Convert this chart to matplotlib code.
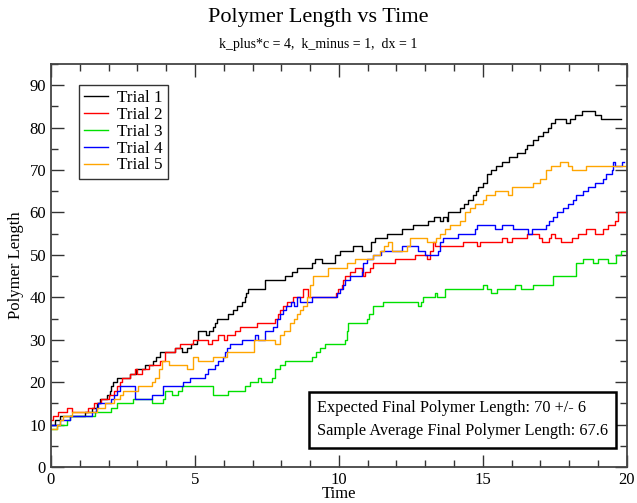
import matplotlib
matplotlib.use("Agg")
from matplotlib import pyplot as plt
from matplotlib.ticker import MultipleLocator

# step data: (time of jump, new length)
t1 = [0, 0.14, 0.31, 1.18, 1.41, 1.59, 1.7, 1.93, 2.05, 2.1, 2.16, 2.3, 2.74, 2.97, 3.26, 3.55, 3.66, 3.78,
      4.3, 4.55, 4.71, 4.85, 5.06, 5.12, 5.4, 5.5, 5.64, 5.69, 5.75, 6.16, 6.33, 6.45, 6.62, 6.74, 6.79, 6.85,
      7.43, 8.12, 8.36, 8.53, 9.05, 9.17, 9.4, 9.57, 9.86, 10.04, 10.5, 10.79, 11.13, 11.25, 11.66, 12.18,
      12.58, 13.1, 13.3, 13.5, 13.6, 13.75, 13.8, 14.2, 14.35, 14.5, 14.66, 14.75, 14.84, 15.0, 15.13, 15.3,
      15.47, 15.65, 15.9, 16.17, 16.46, 16.55, 16.75, 16.92, 17.1, 17.27, 17.38, 17.5, 17.9, 18.02, 18.2,
      18.43, 18.89, 19.1, 19.8]
y1 = [10, 11, 12, 13, 14, 15, 16, 17, 18, 19, 20, 21, 22, 23, 24, 25, 26, 27,
      28, 27, 28, 29, 30, 32, 31, 32, 33, 34, 35, 36, 37, 38, 39, 40, 41, 42,
      44, 45, 46, 47, 48, 49, 48, 48, 50, 51, 52, 51, 53, 54, 55, 56,
      57, 58, 59, 58, 59, 58, 60, 61, 62, 63, 64, 65, 66, 67, 69, 70,
      71, 72, 73, 74, 75, 76, 77, 78, 79, 80, 81, 82, 81, 82, 83,
      84, 83, 82, 82]

t2 = [0, 0.07, 0.25, 0.54, 0.72, 1.3, 1.5, 1.75, 2.0, 2.2, 2.3, 2.4, 2.45, 2.74, 2.92, 3.0, 3.15, 3.4, 3.78,
      3.96, 4.3, 4.48, 4.95, 5.46, 5.6, 5.81, 6.0, 6.1, 6.39, 6.56, 7.14, 7.78, 7.9, 7.95, 8.07, 8.2, 8.42,
      8.76, 8.93, 9.9, 9.98, 10.1, 10.15, 10.21, 10.4, 10.56, 10.8, 10.85, 10.9, 11.08, 11.2, 11.94, 12.64,
      13.05, 13.15, 13.27, 13.35, 14.32, 14.78, 14.9, 15.65, 15.85, 16.0, 16.52, 16.95, 17.04, 17.3, 17.35,
      17.52, 17.7, 18.1, 18.31, 18.6, 18.89, 19.18, 19.35, 19.58, 19.7, 19.99]
y2 = [11, 12, 13, 14, 13, 14, 15, 16, 17, 18, 19, 20, 21, 22, 23, 22, 23, 24, 25,
      27, 28, 29, 30, 29, 30, 31, 30, 31, 32, 33, 34, 35, 36, 37, 38, 39, 40,
      42, 40, 41, 42, 43, 44, 45, 46, 47, 46, 45, 46, 47, 48, 49, 50,
      49, 51, 53, 52, 53, 52, 53, 54, 53, 54, 55, 54, 53, 54, 55,
      54, 53, 54, 55, 56, 55, 56, 57, 58, 60, 60]

t3 = [0, 0.2, 0.55, 0.66, 1.53, 2.1, 2.28, 2.86, 3.5, 3.9, 3.96, 4.19, 4.42, 4.54, 5.64, 6.16, 6.74, 6.91,
      7.2, 7.3, 7.66, 7.78, 7.95, 8.12, 9.05, 9.22, 9.34, 9.51, 10.21, 10.27, 10.33, 10.96, 11.05, 11.18,
      11.53, 12.76, 12.85, 12.93, 13.33, 13.4, 13.68, 15.01, 15.15, 15.3, 15.5, 16.11, 16.34, 16.75, 17.44,
      18.25, 18.48, 18.83, 19.0, 19.35, 19.64, 19.79, 19.99]
y3 = [9, 10, 11, 12, 13, 14, 15, 16, 15, 16, 18, 17, 18, 19, 17, 18, 19, 20,
      21, 20, 21, 23, 24, 25, 26, 27, 28, 29, 30, 32, 34, 35, 36, 38,
      39, 38, 39, 40, 41, 40, 42, 43, 42, 41, 42, 43, 42, 43, 45,
      48, 49, 48, 49, 48, 50, 51, 51]

t4 = [0, 0.31, 0.66, 1.41, 1.55, 1.65, 2.1, 2.2, 2.3, 2.4, 2.92, 3.5, 3.9, 4.6, 4.83, 5.35, 5.46, 5.69, 5.81,
      5.98, 6.04, 6.1, 6.22, 6.62, 7.08, 7.2, 7.43, 7.72, 7.85, 7.95, 8.07, 8.18, 8.35, 8.45, 8.53, 8.65,
      9.05, 9.92, 10.04, 10.15, 10.21, 10.38, 10.79, 10.85, 10.96, 11.2, 11.48, 12.18, 12.76, 12.99, 13.45,
      13.51, 13.63, 14.15, 14.72, 14.78, 15.42, 15.65, 16.05, 16.57, 16.7, 17.21, 17.3, 17.44, 17.56, 17.79,
      17.96, 18.14, 18.25, 18.48, 18.66, 18.9, 19.18, 19.29, 19.47, 19.53, 19.6, 19.84, 19.9]
y4 = [10, 11, 12, 13, 14, 15, 16, 17, 18, 19, 16, 17, 19, 20, 21, 22, 23, 24, 25,
      26, 27, 28, 29, 30, 31, 30, 32, 33, 35, 36, 37, 38, 39, 38, 40, 39,
      40, 41, 42, 43, 44, 45, 46, 48, 49, 50, 51, 52, 51, 50, 51,
      53, 54, 55, 56, 57, 56, 57, 56, 55, 56, 57, 58, 59, 60, 61,
      62, 63, 64, 65, 66, 67, 68, 69, 70, 72, 71, 72, 72]

t5 = [0, 0.2, 0.3, 0.43, 0.72, 1.6, 1.87, 2.2, 2.4, 2.51, 3.03, 3.5, 3.6, 3.75, 3.84, 4.1, 4.71, 4.94, 5.12,
      5.64, 6.1, 7.05, 7.78, 7.95, 8.1, 8.3, 8.45, 8.53, 8.65, 8.76, 8.88, 9.0, 9.11, 9.63, 10.27, 10.56,
      11.19, 11.42, 11.55, 11.71, 11.85, 12.35, 12.47, 13.05, 13.39, 13.5, 13.68, 13.85, 14.2, 14.37, 14.55,
      14.72, 15.01, 15.1, 15.42, 15.88, 16.0, 16.75, 16.98, 17.21, 17.38, 17.67, 17.96, 18.08, 18.6, 19.93]
y5 = [9, 10, 11, 12, 13, 14, 15, 16, 17, 18, 19, 20, 21, 23, 25, 24, 23, 26, 25,
      26, 27, 30, 29, 31, 32, 34, 35, 36, 37, 38, 40, 43, 45, 47, 48, 49,
      50, 51, 52, 53, 51, 52, 54, 53, 54, 55, 56, 57, 58, 60, 61,
      62, 63, 64, 65, 64, 66, 67, 68, 70, 71, 72, 71, 70, 71, 71]

trials = [(t1, y1, "Trial 1", "#000000"),
          (t2, y2, "Trial 2", "#ff0000"),
          (t3, y3, "Trial 3", "#00e000"),
          (t4, y4, "Trial 4", "#0000ff"),
          (t5, y5, "Trial 5", "#ffa500")]

expected_text = "Expected Final Polymer Length: 70 +/- 6"
average_text = "Sample Average Final Polymer Length: 67.6"

plt.rcParams['font.family'] = ['Liberation Serif', 'DejaVu Serif']

fig = plt.figure(figsize=(6.37, 5.03), dpi=100)
ax = fig.add_axes([0.080, 0.0716, 0.904, 0.8012])

for t, y, name, col in trials:
    ax.step(t, y, where="post", color=col, lw=1.0, label=name)

ax.set_xlim(0, 20)
ax.set_ylim(0, 95)
ax.xaxis.set_major_locator(MultipleLocator(5))
ax.xaxis.set_minor_locator(MultipleLocator(1))
ax.yaxis.set_major_locator(MultipleLocator(10))
ax.yaxis.set_minor_locator(MultipleLocator(5))
ax.tick_params(which="both", direction="in", top=True, right=True, labelsize=12, width=1.0, color="#333333")
ax.tick_params(which="major", length=9)
ax.tick_params(which="minor", length=5)
for sp in ax.spines.values():
    sp.set_linewidth(1.3)
    sp.set_color("#444444")

ax.set_xlabel("Time", fontsize=12, labelpad=-1)
ax.set_ylabel("Polymer Length", fontsize=12, labelpad=4)

fig.text(0.5, 0.965, "Polymer Length vs Time", ha="center", va="center", fontsize=16)
fig.text(0.5, 0.912, "k_plus*c = 4,  k_minus = 1,  dx = 1", ha="center", va="center", fontsize=10)

leg = ax.legend(loc="upper left", bbox_to_anchor=(0.048, 0.948), fontsize=12.3, frameon=True, fancybox=False,
                handlelength=1.4, handletextpad=0.55, borderpad=0.3, labelspacing=0.05, borderaxespad=0)
leg.get_frame().set_edgecolor("black")
leg.get_frame().set_linewidth(1.0)

ax.text(0.462, 0.117, expected_text + "\n" + average_text, transform=ax.transAxes, fontsize=11.7,
        va="center", ha="left", linespacing=1.6,
        bbox=dict(boxstyle="square,pad=0.5", fc="white", ec="black", lw=1.8))

fig.savefig("out.png", dpi=100)
